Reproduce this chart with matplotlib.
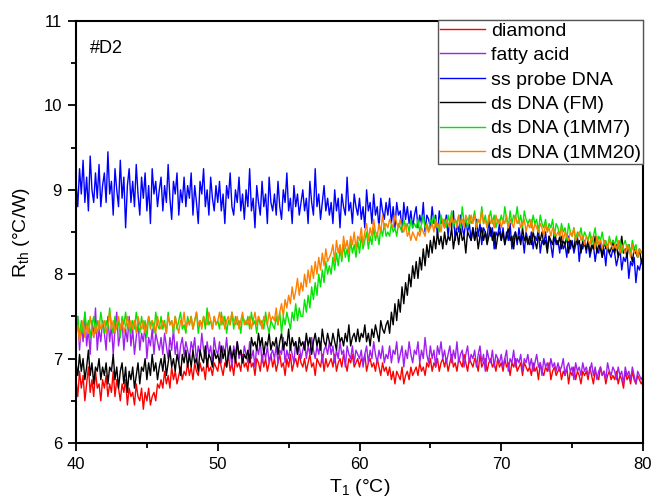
import numpy as np
import matplotlib
matplotlib.use("Agg")
import matplotlib.pyplot as plt

plt.rcParams['font.family'] = ['Liberation Sans', 'DejaVu Sans']
plt.rcParams['mathtext.fontset'] = 'custom'
plt.rcParams['mathtext.rm'] = 'Liberation Sans'

# temperature range (°C); samples are evenly spaced over it
t_start, t_stop = 40.0, 80.0

diamond = [
    6.75, 6.55, 6.85, 6.65, 6.80, 6.50, 6.70, 6.90, 6.60, 6.75, 6.55, 6.85, 6.65, 6.70, 6.50, 6.75,
    6.65, 6.80, 6.55, 6.70, 6.60, 6.85, 6.55, 6.75, 6.65, 6.50, 6.70, 6.60, 6.75, 6.45, 6.65, 6.55,
    6.60, 6.45, 6.70, 6.55, 6.50, 6.65, 6.40, 6.60, 6.50, 6.65, 6.45, 6.55, 6.60, 6.50, 6.70, 6.65,
    6.75, 6.65, 6.85, 6.70, 6.80, 6.65, 6.90, 6.75, 6.85, 6.70, 6.80, 6.90, 6.75, 6.85, 6.80, 6.95,
    6.80, 6.90, 6.75, 6.95, 6.85, 6.80, 6.95, 6.85, 6.90, 6.75, 7.00, 6.85, 6.90, 6.80, 6.95, 6.90,
    6.85, 7.00, 6.90, 6.80, 6.95, 6.90, 7.05, 6.85, 6.95, 6.80, 7.00, 6.90, 6.95, 6.85, 7.05, 6.90,
    6.95, 6.85, 7.05, 6.90, 6.95, 6.80, 7.00, 6.95, 6.85, 7.05, 6.90, 7.00, 6.85, 6.95, 7.05, 6.90,
    7.00, 6.85, 6.95, 7.05, 6.90, 6.95, 6.80, 7.00, 6.90, 7.05, 6.85, 6.95, 7.00, 6.90, 7.05, 6.95,
    6.90, 7.00, 6.85, 6.95, 7.05, 6.90, 6.95, 6.80, 7.00, 6.95, 6.90, 7.05, 6.85, 7.00, 6.90, 6.95,
    7.00, 6.90, 7.05, 6.85, 6.95, 7.00, 6.90, 7.05, 6.95, 6.85, 7.00, 6.95, 7.05, 6.90, 6.95, 7.00,
    6.90, 7.00, 6.95, 7.05, 6.85, 6.95, 7.00, 6.90, 6.95, 6.85, 7.00, 6.90, 6.80, 6.95, 6.85, 6.90,
    6.80, 6.90, 6.75, 6.85, 6.70, 6.85, 6.80, 6.75, 6.90, 6.70, 6.80, 6.85, 6.75, 6.90, 6.80, 6.85,
    6.90, 6.80, 6.95, 6.85, 6.90, 6.80, 6.95, 6.90, 7.00, 6.85, 6.95, 6.90, 7.00, 6.85, 6.95, 7.00,
    6.90, 7.00, 6.85, 6.95, 7.05, 6.90, 6.95, 6.85, 7.00, 6.95, 6.90, 7.05, 6.95, 6.85, 7.00, 6.95,
    6.90, 7.00, 6.95, 6.85, 7.05, 6.90, 6.95, 7.00, 6.85, 6.95, 7.00, 6.90, 6.95, 6.85, 7.00, 6.90,
    6.95, 6.85, 7.00, 6.90, 6.95, 6.80, 6.95, 6.90, 7.00, 6.85, 6.90, 6.95, 6.80, 6.95, 6.90, 6.85,
    6.90, 6.80, 6.95, 6.85, 6.90, 6.75, 6.95, 6.85, 6.80, 6.90, 6.85, 6.95, 6.75, 6.85, 6.90, 6.80,
    6.85, 6.90, 6.75, 6.85, 6.80, 6.90, 6.70, 6.85, 6.80, 6.90, 6.75, 6.85, 6.80, 6.70, 6.85, 6.80,
    6.85, 6.75, 6.90, 6.80, 6.70, 6.85, 6.80, 6.75, 6.90, 6.80, 6.85, 6.70, 6.80, 6.85, 6.75, 6.80,
    6.75, 6.85, 6.70, 6.80, 6.75, 6.65, 6.85, 6.75, 6.80, 6.70, 6.85, 6.75, 6.70, 6.80, 6.75, 6.70,
    6.75,
]

fatty_acid = [
    7.25, 7.50, 7.10, 7.40, 7.20, 7.55, 7.15, 7.35, 7.05, 7.45, 7.25, 7.60, 7.10, 7.35, 7.20, 7.45,
    7.30, 7.10, 7.50, 7.20, 7.40, 7.05, 7.35, 7.55, 7.15, 7.30, 7.45, 7.10, 7.35, 7.20, 7.50, 7.15,
    7.35, 7.05, 7.25, 7.45, 7.10, 7.30, 7.20, 7.40, 7.00, 7.25, 7.15, 7.35, 7.05, 7.30, 7.20, 7.10,
    7.25, 7.05, 7.30, 7.15, 7.00, 7.25, 7.10, 7.35, 7.05, 7.20, 6.95, 7.15, 7.25, 7.05, 7.20, 7.10,
    7.00, 7.20, 7.10, 7.25, 6.95, 7.15, 7.05, 7.30, 7.10, 7.00, 7.20, 7.05, 7.15, 6.95, 7.25, 7.10,
    7.05, 7.20, 6.95, 7.15, 7.05, 7.25, 7.00, 7.10, 6.90, 7.15, 7.05, 7.20, 7.00, 7.10, 6.95, 7.15,
    7.05, 6.95, 7.20, 7.00, 7.10, 6.90, 7.15, 7.05, 7.20, 6.95, 7.10, 7.00, 7.15, 6.95, 7.05, 7.10,
    7.00, 7.15, 6.95, 7.10, 7.05, 7.25, 6.95, 7.10, 7.00, 7.15, 7.05, 6.95, 7.20, 7.05, 7.15, 7.00,
    7.10, 7.20, 7.00, 7.15, 7.05, 7.25, 7.10, 7.00, 7.15, 7.05, 7.20, 6.95, 7.10, 7.15, 7.05, 7.20,
    7.05, 7.15, 6.95, 7.10, 7.00, 7.20, 7.05, 7.10, 6.90, 7.15, 7.05, 7.00, 7.15, 6.95, 7.10, 7.05,
    7.00, 7.10, 6.90, 7.05, 7.15, 6.95, 7.10, 7.00, 7.20, 7.05, 6.95, 7.10, 7.00, 7.15, 6.95, 7.05,
    7.00, 7.15, 6.95, 7.10, 7.05, 7.20, 6.95, 7.05, 7.15, 6.90, 7.10, 7.00, 7.20, 7.05, 6.95, 7.10,
    7.05, 7.20, 6.95, 7.10, 7.00, 7.25, 7.05, 6.95, 7.15, 7.00, 7.10, 6.90, 7.15, 7.05, 7.20, 7.00,
    7.10, 6.95, 7.05, 7.15, 6.95, 7.10, 7.00, 7.20, 6.95, 7.05, 7.10, 6.90, 7.05, 7.15, 6.95, 7.05,
    7.00, 7.10, 6.90, 7.05, 7.15, 6.95, 7.05, 6.85, 7.10, 7.00, 6.95, 7.10, 6.90, 7.05, 7.00, 6.95,
    7.05, 6.90, 7.00, 7.10, 6.85, 7.00, 6.95, 7.10, 6.90, 7.00, 6.95, 7.05, 6.85, 7.00, 6.95, 7.05,
    6.90, 7.00, 6.85, 6.95, 7.05, 6.90, 6.95, 6.80, 7.00, 6.90, 6.95, 6.85, 7.00, 6.90, 6.95, 6.85,
    6.95, 6.85, 6.90, 7.00, 6.80, 6.90, 6.95, 6.85, 6.90, 6.75, 6.95, 6.85, 6.90, 6.80, 6.95, 6.85,
    6.90, 6.80, 6.85, 6.95, 6.80, 6.90, 6.75, 6.85, 6.90, 6.80, 6.85, 6.75, 6.95, 6.85, 6.80, 6.90,
    6.85, 6.75, 6.90, 6.80, 6.85, 6.70, 6.90, 6.80, 6.85, 6.75, 6.90, 6.80, 6.70, 6.85, 6.80, 6.75,
    6.80,
]

ss_probe = [
    9.10, 8.80, 9.25, 8.95, 9.35, 8.85, 9.15, 8.75, 9.40, 9.00, 8.85, 9.20, 8.90, 9.30, 8.80, 9.05,
    9.20, 8.85, 9.45, 8.95, 9.10, 8.70, 9.25, 9.00, 8.80, 9.35, 8.90, 9.15, 8.55, 9.05, 9.25, 8.85,
    9.10, 8.80, 9.30, 8.95, 8.70, 9.15, 8.90, 9.20, 8.75, 9.05, 8.60, 9.25, 8.95, 9.10, 8.80, 9.00,
    9.15, 8.75, 9.05, 8.85, 9.30, 8.90, 8.65, 9.10, 8.95, 9.20, 8.70, 9.00, 8.85, 9.15, 8.80, 9.05,
    8.90, 9.20, 8.70, 9.05, 8.85, 8.60, 9.10, 8.95, 9.25, 8.80, 9.00, 8.70, 9.15, 8.90, 8.75, 9.05,
    8.85, 9.10, 8.75, 8.95, 8.60, 9.05, 8.90, 9.20, 8.80, 8.70, 9.00, 8.85, 9.15, 8.75, 8.95, 8.65,
    9.00, 8.80, 9.25, 8.75, 8.90, 8.55, 9.05, 8.85, 8.70, 9.10, 8.80, 8.95, 8.60, 9.15, 8.85, 8.75,
    8.95, 8.70, 9.10, 8.80, 8.65, 9.00, 8.85, 9.20, 8.75, 8.90, 8.60, 9.05, 8.80, 8.95, 8.70, 8.85,
    9.00, 8.75, 8.90, 8.60, 9.10, 8.85, 8.70, 9.25, 8.80, 8.95, 8.65, 8.85, 9.05, 8.75, 8.90, 8.70,
    8.85, 8.60, 9.00, 8.75, 8.90, 8.55, 8.95, 8.80, 8.70, 9.15, 8.75, 8.85, 8.60, 8.95, 8.80, 8.70,
    8.90, 8.65, 8.80, 8.55, 9.00, 8.75, 8.85, 8.60, 8.95, 8.70, 8.80, 8.55, 8.90, 8.75, 8.65, 8.85,
    8.70, 8.90, 8.60, 8.80, 8.55, 8.85, 8.70, 8.75, 8.50, 8.85, 8.65, 8.80, 8.60, 8.75, 8.55, 8.70,
    8.80, 8.55, 8.70, 8.60, 8.85, 8.50, 8.70, 8.65, 8.55, 8.80, 8.60, 8.70, 8.45, 8.75, 8.60, 8.65,
    8.55, 8.70, 8.45, 8.65, 8.55, 8.75, 8.40, 8.60, 8.50, 8.70, 8.55, 8.45, 8.65, 8.50, 8.60, 8.40,
    8.55, 8.40, 8.65, 8.45, 8.60, 8.35, 8.55, 8.50, 8.40, 8.65, 8.45, 8.55, 8.30, 8.50, 8.45, 8.60,
    8.40, 8.55, 8.35, 8.50, 8.40, 8.60, 8.30, 8.45, 8.50, 8.35, 8.55, 8.40, 8.45, 8.25, 8.50, 8.40,
    8.35, 8.50, 8.30, 8.45, 8.40, 8.55, 8.25, 8.40, 8.35, 8.50, 8.30, 8.45, 8.35, 8.20, 8.45, 8.35,
    8.40, 8.25, 8.45, 8.30, 8.35, 8.20, 8.45, 8.30, 8.40, 8.25, 8.35, 8.45, 8.15, 8.35, 8.30, 8.40,
    8.25, 8.40, 8.20, 8.30, 8.35, 8.15, 8.30, 8.25, 8.40, 8.20, 8.30, 8.10, 8.35, 8.25, 8.20, 8.30,
    8.25, 8.10, 8.20, 8.30, 8.05, 8.20, 8.15, 8.25, 7.95, 8.15, 8.10, 8.20, 7.90, 8.10, 8.05, 8.15,
    8.10,
]

ds_fm = [
    6.95, 6.80, 7.05, 6.85, 7.00, 6.75, 6.90, 7.10, 6.80, 6.95, 6.70, 6.90, 6.85, 7.00, 6.75, 6.90,
    6.80, 6.95, 6.70, 6.90, 6.85, 7.05, 6.75, 6.90, 6.65, 6.85, 6.95, 6.70, 6.90, 6.60, 6.85, 6.75,
    6.90, 6.65, 6.80, 6.95, 6.70, 6.90, 6.85, 7.00, 6.75, 6.95, 6.80, 7.05, 6.85, 6.95, 6.75, 6.90,
    7.00, 6.85, 7.05, 6.80, 6.95, 7.10, 6.90, 7.00, 6.85, 7.05, 6.95, 6.80, 7.05, 6.95, 7.10, 6.90,
    7.05, 6.90, 7.10, 6.95, 7.00, 6.85, 7.10, 7.00, 6.95, 7.15, 6.90, 7.05, 7.00, 6.90, 7.10, 7.00,
    7.05, 6.95, 7.15, 7.00, 7.10, 6.90, 7.05, 7.15, 7.00, 7.10, 6.95, 7.20, 7.05, 7.10, 6.95, 7.05,
    7.00, 7.10, 6.95, 7.25, 7.15, 7.20, 7.10, 7.30, 7.15, 7.25, 7.05, 7.20, 7.15, 7.30, 7.10, 7.20,
    7.15, 7.25, 7.05, 7.20, 7.30, 7.10, 7.20, 7.15, 7.35, 7.10, 7.25, 7.15, 7.20, 7.05, 7.25, 7.15,
    7.20, 7.10, 7.30, 7.15, 7.25, 7.05, 7.20, 7.30, 7.15, 7.25, 7.10, 7.35, 7.20, 7.15, 7.30, 7.20,
    7.15, 7.30, 7.20, 7.10, 7.35, 7.20, 7.25, 7.15, 7.30, 7.20, 7.40, 7.15, 7.25, 7.30, 7.20, 7.35,
    7.20, 7.30, 7.25, 7.40, 7.20, 7.30, 7.15, 7.35, 7.25, 7.40, 7.30, 7.20, 7.45, 7.35, 7.30, 7.40,
    7.45, 7.30, 7.55, 7.40, 7.65, 7.45, 7.70, 7.55, 7.85, 7.65, 7.90, 7.75, 8.00, 7.85, 8.10, 7.95,
    8.15, 7.95, 8.20, 8.05, 8.30, 8.10, 8.35, 8.20, 8.40, 8.25, 8.45, 8.30, 8.50, 8.35, 8.45, 8.30,
    8.50, 8.35, 8.45, 8.40, 8.55, 8.30, 8.45, 8.50, 8.35, 8.55, 8.40, 8.45, 8.25, 8.50, 8.45, 8.40,
    8.55, 8.40, 8.50, 8.30, 8.45, 8.55, 8.40, 8.50, 8.35, 8.45, 8.55, 8.40, 8.50, 8.30, 8.45, 8.50,
    8.40, 8.50, 8.35, 8.45, 8.55, 8.40, 8.45, 8.30, 8.50, 8.40, 8.45, 8.35, 8.55, 8.40, 8.45, 8.35,
    8.45, 8.35, 8.50, 8.40, 8.30, 8.45, 8.40, 8.50, 8.35, 8.40, 8.25, 8.45, 8.40, 8.35, 8.50, 8.40,
    8.35, 8.45, 8.30, 8.40, 8.35, 8.45, 8.25, 8.40, 8.35, 8.30, 8.45, 8.35, 8.40, 8.25, 8.40, 8.35,
    8.30, 8.40, 8.25, 8.35, 8.30, 8.45, 8.25, 8.35, 8.30, 8.20, 8.40, 8.30, 8.35, 8.25, 8.30, 8.40,
    8.25, 8.35, 8.20, 8.30, 8.45, 8.25, 8.30, 8.20, 8.35, 8.25, 8.15, 8.30, 8.25, 8.20, 8.30, 8.15,
    8.20,
]

ds_1mm7 = [
    7.35, 7.50, 7.25, 7.45, 7.30, 7.55, 7.35, 7.45, 7.25, 7.40, 7.50, 7.30, 7.45, 7.35, 7.55, 7.40,
    7.30, 7.45, 7.35, 7.60, 7.40, 7.30, 7.50, 7.35, 7.45, 7.25, 7.50, 7.40, 7.55, 7.35, 7.45, 7.30,
    7.45, 7.35, 7.55, 7.40, 7.30, 7.50, 7.35, 7.45, 7.25, 7.50, 7.40, 7.45, 7.30, 7.55, 7.40, 7.35,
    7.50, 7.35, 7.45, 7.30, 7.55, 7.40, 7.45, 7.30, 7.50, 7.35, 7.45, 7.55, 7.35, 7.40, 7.30, 7.50,
    7.40, 7.50, 7.35, 7.45, 7.55, 7.30, 7.45, 7.40, 7.50, 7.35, 7.60, 7.40, 7.45, 7.35, 7.50, 7.40,
    7.45, 7.35, 7.55, 7.40, 7.50, 7.30, 7.45, 7.40, 7.55, 7.35, 7.50, 7.40, 7.45, 7.30, 7.50, 7.45,
    7.40, 7.50, 7.35, 7.55, 7.40, 7.45, 7.30, 7.50, 7.40, 7.45, 7.35, 7.55, 7.40, 7.30, 7.45, 7.40,
    7.35, 7.50, 7.40, 7.55, 7.30, 7.50, 7.40, 7.55, 7.45, 7.35, 7.55, 7.45, 7.65, 7.45, 7.60, 7.50,
    7.50, 7.70, 7.55, 7.75, 7.60, 7.85, 7.70, 7.90, 7.75, 8.00, 7.85, 8.05, 7.90, 8.15, 8.00, 8.10,
    8.00, 8.20, 8.05, 8.25, 8.10, 8.30, 8.15, 8.35, 8.20, 8.30, 8.15, 8.40, 8.25, 8.35, 8.20, 8.40,
    8.25, 8.45, 8.30, 8.40, 8.50, 8.30, 8.45, 8.35, 8.55, 8.40, 8.50, 8.35, 8.55, 8.45, 8.60, 8.45,
    8.50, 8.45, 8.60, 8.50, 8.55, 8.45, 8.60, 8.55, 8.50, 8.65, 8.55, 8.60, 8.50, 8.65, 8.55, 8.60,
    8.55, 8.65, 8.50, 8.60, 8.70, 8.55, 8.60, 8.50, 8.65, 8.60, 8.70, 8.55, 8.60, 8.50, 8.70, 8.60,
    8.65, 8.55, 8.70, 8.60, 8.75, 8.55, 8.65, 8.60, 8.70, 8.55, 8.80, 8.60, 8.65, 8.55, 8.70, 8.60,
    8.65, 8.75, 8.55, 8.65, 8.60, 8.80, 8.60, 8.70, 8.55, 8.65, 8.75, 8.60, 8.70, 8.55, 8.65, 8.60,
    8.70, 8.60, 8.80, 8.65, 8.55, 8.75, 8.60, 8.70, 8.65, 8.80, 8.60, 8.70, 8.55, 8.75, 8.65, 8.60,
    8.65, 8.55, 8.70, 8.60, 8.65, 8.50, 8.70, 8.60, 8.55, 8.65, 8.50, 8.60, 8.55, 8.65, 8.45, 8.60,
    8.55, 8.45, 8.60, 8.50, 8.55, 8.40, 8.60, 8.50, 8.45, 8.55, 8.40, 8.50, 8.45, 8.55, 8.40, 8.50,
    8.45, 8.40, 8.50, 8.35, 8.45, 8.55, 8.35, 8.45, 8.40, 8.50, 8.35, 8.40, 8.30, 8.45, 8.35, 8.40,
    8.35, 8.45, 8.30, 8.40, 8.25, 8.35, 8.40, 8.30, 8.35, 8.25, 8.40, 8.30, 8.35, 8.20, 8.30, 8.25,
    8.30,
]

ds_1mm20 = [
    7.30, 7.40, 7.20, 7.35, 7.45, 7.25, 7.40, 7.30, 7.50, 7.35, 7.25, 7.40, 7.30, 7.45, 7.35, 7.40,
    7.45, 7.30, 7.40, 7.55, 7.35, 7.45, 7.30, 7.40, 7.50, 7.35, 7.45, 7.30, 7.40, 7.50, 7.35, 7.45,
    7.35, 7.45, 7.30, 7.50, 7.40, 7.35, 7.45, 7.30, 7.40, 7.50, 7.35, 7.45, 7.40, 7.30, 7.50, 7.40,
    7.35, 7.45, 7.40, 7.30, 7.50, 7.40, 7.45, 7.35, 7.50, 7.40, 7.30, 7.45, 7.40, 7.55, 7.35, 7.45,
    7.40, 7.50, 7.35, 7.45, 7.55, 7.40, 7.45, 7.35, 7.50, 7.45, 7.40, 7.55, 7.45, 7.35, 7.50, 7.40,
    7.45, 7.55, 7.40, 7.50, 7.35, 7.45, 7.50, 7.40, 7.55, 7.45, 7.40, 7.50, 7.35, 7.45, 7.55, 7.40,
    7.45, 7.40, 7.50, 7.35, 7.45, 7.55, 7.40, 7.50, 7.45, 7.35, 7.50, 7.45, 7.40, 7.55, 7.45, 7.50,
    7.45, 7.60, 7.40, 7.55, 7.65, 7.50, 7.70, 7.60, 7.75, 7.65, 7.85, 7.70, 7.80, 7.95, 7.75, 7.90,
    7.80, 8.00, 7.85, 8.05, 7.90, 8.10, 7.95, 8.15, 8.00, 8.20, 8.05, 8.25, 8.10, 8.30, 8.15, 8.20,
    8.25, 8.35, 8.15, 8.40, 8.25, 8.35, 8.20, 8.45, 8.30, 8.40, 8.25, 8.45, 8.35, 8.50, 8.30, 8.45,
    8.40, 8.55, 8.35, 8.50, 8.60, 8.40, 8.55, 8.45, 8.65, 8.50, 8.45, 8.60, 8.50, 8.70, 8.55, 8.60,
    8.55, 8.65, 8.60, 8.55, 8.70, 8.60, 8.55, 8.65, 8.55, 8.50, 8.60, 8.45, 8.50, 8.40, 8.50, 8.45,
    8.40, 8.50, 8.45, 8.55, 8.50, 8.45, 8.60, 8.50, 8.55, 8.60, 8.50, 8.65, 8.55, 8.60, 8.50, 8.65,
    8.55, 8.65, 8.60, 8.55, 8.70, 8.60, 8.65, 8.55, 8.70, 8.60, 8.65, 8.55, 8.70, 8.65, 8.60, 8.70,
    8.60, 8.70, 8.55, 8.65, 8.60, 8.75, 8.60, 8.65, 8.55, 8.70, 8.60, 8.65, 8.55, 8.70, 8.60, 8.65,
    8.55, 8.65, 8.60, 8.70, 8.55, 8.65, 8.60, 8.55, 8.70, 8.60, 8.65, 8.55, 8.60, 8.65, 8.50, 8.60,
    8.55, 8.65, 8.50, 8.60, 8.55, 8.50, 8.60, 8.55, 8.45, 8.60, 8.50, 8.55, 8.45, 8.55, 8.50, 8.45,
    8.50, 8.45, 8.55, 8.40, 8.50, 8.45, 8.40, 8.50, 8.45, 8.55, 8.40, 8.45, 8.50, 8.40, 8.45, 8.35,
    8.45, 8.40, 8.35, 8.45, 8.40, 8.30, 8.45, 8.35, 8.40, 8.30, 8.40, 8.35, 8.30, 8.40, 8.35, 8.30,
    8.35, 8.30, 8.40, 8.25, 8.35, 8.30, 8.25, 8.35, 8.30, 8.20, 8.35, 8.25, 8.30, 8.20, 8.30, 8.25,
    8.25,
]

series = [
    ("diamond", diamond, "#ff0000"),
    ("fatty acid", fatty_acid, "#a020f0"),
    ("ss probe DNA", ss_probe, "#0000ff"),
    ("ds DNA (FM)", ds_fm, "#000000"),
    ("ds DNA (1MM7)", ds_1mm7, "#00e600"),
    ("ds DNA (1MM20)", ds_1mm20, "#ff8000"),
]

x_ticks = [40, 50, 60, 70, 80]
y_ticks = [6, 7, 8, 9, 10, 11]

fig = plt.figure(figsize=(6.52, 5.01), dpi=100)
ax = fig.add_axes([76/652, 1 - 443/501, (643-76)/652, (443-21)/501])

for name, vals, col in series:
    xs = np.linspace(t_start, t_stop, len(vals))
    ax.plot(xs, vals, color=col, lw=1.0, label=name)

ax.set_xlim(40, 80)
ax.set_ylim(6, 11)
ax.set_xticks(x_ticks)
ax.set_yticks(y_ticks)
ax.set_xticks([45, 55, 65, 75], minor=True)
ax.set_yticks([6.5, 7.5, 8.5, 9.5, 10.5], minor=True)
ax.tick_params(which='major', direction='out', length=6, width=1.3, labelsize=12, pad=4)
ax.tick_params(which='minor', direction='out', length=3.5, width=1.3)
for s in ax.spines.values():
    s.set_linewidth(1.5)

ax.set_xlabel(r"T$_\mathrm{1}$ (°C)", fontsize=14, labelpad=4)
ax.set_ylabel(r"R$_\mathrm{th}$ (°C/W)", fontsize=14, labelpad=8)

ax.text(41.0, 10.62, "#D2", fontsize=13)

leg = ax.legend(loc='upper right', bbox_to_anchor=(1.0, 1.003), fontsize=14,
                frameon=True, fancybox=False, edgecolor='#555555', framealpha=1,
                handlelength=2.3, handletextpad=0.3, labelspacing=0.35,
                borderpad=0.12, borderaxespad=0.0)
leg.get_frame().set_linewidth(1.0)
for h in leg.get_lines():
    h.set_linewidth(1.0)

fig.savefig("out.png", dpi=100)
